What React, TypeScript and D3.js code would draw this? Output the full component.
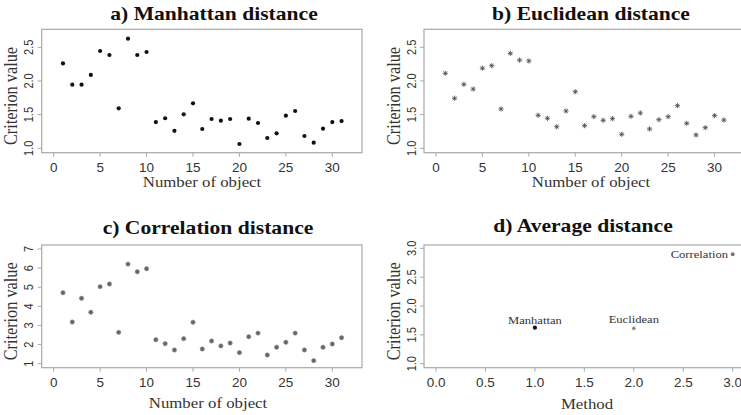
import React from "react";
import * as d3 from "d3";

const objects = d3.range(1, 32);
const manhattan = [2.26, 1.945, 1.945, 2.09, 2.445, 2.386, 1.594, 2.628, 2.386, 2.43, 1.39, 1.446, 1.26, 1.505, 1.668, 1.287, 1.435, 1.41, 1.435, 1.064, 1.44, 1.376, 1.153, 1.223, 1.485, 1.554, 1.183, 1.083, 1.291, 1.39, 1.405];
const euclidean = [2.114, 1.743, 1.95, 1.88, 2.19, 2.227, 1.584, 2.41, 2.31, 2.297, 1.49, 1.446, 1.32, 1.554, 1.84, 1.336, 1.47, 1.416, 1.44, 1.208, 1.475, 1.524, 1.287, 1.425, 1.47, 1.633, 1.371, 1.198, 1.306, 1.485, 1.42];
const correlation = [4.71, 3.18, 4.42, 3.69, 5.03, 5.17, 2.64, 6.21, 5.81, 5.97, 2.255, 2.05, 1.72, 2.31, 3.17, 1.77, 2.19, 1.93, 2.08, 1.58, 2.41, 2.6, 1.455, 1.86, 2.12, 2.6, 1.72, 1.16, 1.86, 2.03, 2.36];
const methods = ["Manhattan", "Euclidean", "Correlation"];
const methodX = [1, 2, 3];
const averages = [1.624, 1.613, 2.896];

const xTicksObj = [0, 5, 10, 15, 20, 25, 30];
const yTicksAB = [1.0, 1.5, 2.0, 2.5];
const yTicksC = [1, 2, 3, 4, 5, 6, 7];
const xTicksD = [0, 0.5, 1.0, 1.5, 2.0, 2.5, 3.0];
const yTicksD = [1.0, 1.5, 2.0, 2.5, 3.0];

const SERIF = "Liberation Serif, Times New Roman, serif";
const SANS = "Liberation Sans, Arial, sans-serif";
const BOX = "#a8a8a8";
const TXT = "#333";
const SQ = 0.88; // vertical squash of the original image

type Box = { x0: number; x1: number; y0: number; y1: number };

function T({ x, y, rot, anchor, family, size, weight, fill, children }: any) {
  const tr = rot
    ? `translate(${x},${y}) rotate(-90) scale(${SQ},1)`
    : `translate(${x},${y}) scale(1,${SQ})`;
  return (
    <text transform={tr} textAnchor={anchor || "middle"} fill={fill || TXT}
      style={{ fontFamily: family, fontSize: size, fontWeight: weight || "normal" }}>
      {children}
    </text>
  );
}

function Frame({ box, xs, ys, xTicks, yTicks, xFmt, yFmt, title, titleX, titleY, xLabel, xLabelX, xLabelY, children }: any) {
  const b: Box = box;
  return (
    <g>
      <rect x={b.x0} y={b.y0} width={b.x1 - b.x0} height={b.y1 - b.y0} fill="none" stroke={BOX} strokeWidth={1.2} />
      {xTicks.map((t: number) => (
        <g key={"x" + t}>
          <line x1={xs(t)} x2={xs(t)} y1={b.y1} y2={b.y1 + 4} stroke={BOX} strokeWidth={1} />
          <T x={xs(t)} y={b.y1 + 19} family={SANS} size={13.5}>{xFmt(t)}</T>
        </g>
      ))}
      {yTicks.map((t: number) => (
        <g key={"y" + t}>
          <line x1={b.x0 - 4} x2={b.x0} y1={ys(t)} y2={ys(t)} stroke={BOX} strokeWidth={1} />
          <T x={b.x0 - 8.5} y={ys(t)} rot family={SANS} size={12.5}>{yFmt(t)}</T>
        </g>
      ))}
      <T x={titleX} y={titleY} family={SERIF} size={21.6} weight="bold" fill="#111">{title}</T>
      <T x={xLabelX} y={xLabelY} family={SERIF} size={16.8}>{xLabel}</T>
      <T x={b.x0 - 24.5} y={(b.y0 + b.y1) / 2 + 5} rot family={SERIF} size={18.5}>Criterion value</T>
      {children}
    </g>
  );
}

function Star({ x, y, r, color }: { x: number; y: number; r: number; color: string }) {
  const d = r * 0.7071;
  return (
    <g stroke={color} strokeWidth={0.9}>
      <line x1={x - r} x2={x + r} y1={y} y2={y} />
      <line x1={x} x2={x} y1={y - r} y2={y + r} />
      <line x1={x - d} x2={x + d} y1={y - d} y2={y + d} />
      <line x1={x - d} x2={x + d} y1={y + d} y2={y - d} />
    </g>
  );
}

export default function App() {
  const f1 = d3.format(".1f");
  const f0 = d3.format("d");

  const boxA: Box = { x0: 41.7, x1: 362, y0: 29.3, y1: 152.7 };
  const xA = d3.scaleLinear().domain([0, 30]).range([53.7, 332.3]);
  const yA = d3.scaleLinear().domain([1, 2.5]).range([148.3, 47.3]);

  const boxB: Box = { x0: 424, x1: 744.3, y0: 29.3, y1: 152.7 };
  const xB = d3.scaleLinear().domain([0, 30]).range([436, 714.6]);
  const yB = yA;

  const boxC: Box = { x0: 41.7, x1: 362, y0: 245, y1: 367.7 };
  const xC = xA;
  const yC = d3.scaleLinear().domain([1, 7]).range([363.7, 249]);

  const boxD: Box = { x0: 424, x1: 744.3, y0: 245, y1: 367.7 };
  const xD = d3.scaleLinear().domain([0, 3]).range([436, 732.7]);
  const yD = d3.scaleLinear().domain([1, 3]).range([363.7, 248.3]);

  const dColors = ["#111", "#777", "#777"];

  return (
    <svg width={741} height={415} style={{ position: "absolute", left: 0, top: 0, background: "#fff" }}>
      <rect width={741} height={415} fill="#fff" />
      <Frame box={boxA} xs={xA} ys={yA} xTicks={xTicksObj} yTicks={yTicksAB} xFmt={f0} yFmt={f1}
        title="a) Manhattan distance" titleX={214} titleY={19.5} xLabel="Number of object" xLabelX={202} xLabelY={187}>
        {objects.map((o, i) => (
          <circle key={o} cx={xA(o)} cy={yA(manhattan[i])} r={2.1} fill="#111" />
        ))}
      </Frame>
      <Frame box={boxB} xs={xB} ys={yB} xTicks={xTicksObj} yTicks={yTicksAB} xFmt={f0} yFmt={f1}
        title="b) Euclidean distance" titleX={591} titleY={19.5} xLabel="Number of object" xLabelX={591} xLabelY={187}>
        {objects.map((o, i) => (
          <Star key={o} x={xB(o)} y={yB(euclidean[i])} r={2.6} color="#555" />
        ))}
      </Frame>
      <Frame box={boxC} xs={xC} ys={yC} xTicks={xTicksObj} yTicks={yTicksC} xFmt={f0} yFmt={f0}
        title="c) Correlation distance" titleX={208} titleY={233.5} xLabel="Number of object" xLabelX={208} xLabelY={407.5}>
        {objects.map((o, i) => (
          <circle key={o} cx={xC(o)} cy={yC(correlation[i])} r={2.2} fill="#666" stroke="#999" strokeWidth={0.6} />
        ))}
      </Frame>
      <Frame box={boxD} xs={xD} ys={yD} xTicks={xTicksD} yTicks={yTicksD} xFmt={f1} yFmt={f1}
        title="d) Average distance" titleX={583} titleY={231.5} xLabel="Method" xLabelX={587} xLabelY={409}>
        {methods.map((m, i) => {
          const px = xD(methodX[i]);
          const py = yD(averages[i]);
          return (
            <g key={m}>
              {i === 1 ? (
                <Star x={px} y={py} r={2} color="#777" />
              ) : (
                <circle cx={px} cy={py} r={i === 0 ? 2.1 : 2} fill={dColors[i]} />
              )}
              {i < 2 ? (
                <T x={px} y={py - (i === 0 ? 3.5 : 5.5)} family={SERIF} size={12.6}>{m}</T>
              ) : (
                <T x={px - 4.7} y={py + 3.7} anchor="end" family={SERIF} size={12.6}>{m}</T>
              )}
            </g>
          );
        })}
      </Frame>
    </svg>
  );
}
